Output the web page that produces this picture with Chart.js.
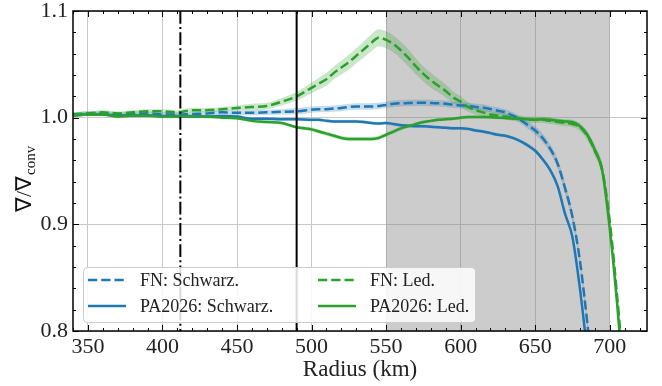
<!DOCTYPE html>
<html>
<head>
<meta charset="utf-8">
<script src="https://cdn.jsdelivr.net/npm/chart.js@4.4.1/dist/chart.umd.min.js"></script>
<style>
  html, body { margin: 0; padding: 0; background: #fff; font-family: serif; }
  #wrap { width: 662px; height: 386px; position: relative; }
</style>
</head>
<body>
<div id="wrap"><canvas id="chart" width="662" height="386"></canvas></div>
<script>
// radius grid (km)
const radius = [340, 350, 360, 370, 380, 390, 400, 410, 420, 430, 440, 450, 460, 470, 480, 490, 500,
  505, 510, 515, 520, 525, 530, 535, 540, 545, 550, 555, 560, 565, 570, 575, 580, 585, 590, 595, 600,
  605, 610, 615, 620, 625, 630, 635, 640, 645, 650, 655, 660, 665, 670, 675, 680, 685, 690, 695, 700, 705, 710];

// FN: Schwarz.
const fnSchwarz = [1.003, 1.004, 1.004, 1.003, 1.004, 1.004, 1.003, 1.003, 1.0035, 1.004, 1.005, 1.0045, 1.0045, 1.005, 1.0055, 1.006, 1.0075,
  1.008, 1.008, 1.0085, 1.009, 1.010, 1.0105, 1.0105, 1.0105, 1.011, 1.012, 1.013, 1.0135, 1.0137, 1.014, 1.014, 1.0138, 1.0135, 1.013, 1.012, 1.0115,
  1.011, 1.010, 1.0095, 1.008, 1.0065, 1.005, 1.002, 0.998, 0.993, 0.988, 0.981, 0.971, 0.957, 0.934, 0.907, 0.866, 0.807, 0.74, null, null, null, null];
const fnSchwarzErr = [0.002, 0.002, 0.002, 0.002, 0.002, 0.002, 0.002, 0.002, 0.002, 0.002, 0.002, 0.002, 0.0025, 0.0025, 0.0025, 0.003, 0.003,
  0.003, 0.003, 0.003, 0.003, 0.003, 0.003, 0.003, 0.003, 0.003, 0.003, 0.003, 0.003, 0.003, 0.003, 0.003, 0.003, 0.003, 0.003, 0.003, 0.003,
  0.003, 0.003, 0.003, 0.003, 0.003, 0.003, 0.003, 0.003, 0.0035, 0.004, 0.004, 0.004, 0.0045, 0.005, 0.005, 0.005, 0.005, 0.005, null, null, null, null];

// PA2026: Schwarz.
const paSchwarz = [1.002, 1.003, 1.003, 1.002, 1.002, 1.002, 1.0015, 1.0015, 1.001, 1.001, 1.0015, 1.001, 0.999, 0.999, 0.9985, 0.9985, 0.998,
  0.998, 0.997, 0.9965, 0.9965, 0.9965, 0.9965, 0.996, 0.995, 0.9945, 0.995, 0.994, 0.993, 0.9925, 0.992, 0.992, 0.9915, 0.991, 0.9906, 0.990, 0.990,
  0.9895, 0.988, 0.987, 0.9855, 0.984, 0.983, 0.981, 0.978, 0.974, 0.969, 0.961, 0.951, 0.936, 0.910, 0.888, 0.84, 0.78, null, null, null, null, null];
const paSchwarzErr = [0.0015, 0.0015, 0.0015, 0.0015, 0.0015, 0.0015, 0.0015, 0.0015, 0.0015, 0.0015, 0.0015, 0.0015, 0.0015, 0.0015, 0.0015, 0.0015, 0.0015,
  0.0015, 0.0015, 0.0015, 0.0015, 0.0015, 0.0015, 0.0015, 0.0015, 0.0015, 0.0015, 0.0015, 0.0015, 0.0015, 0.0015, 0.0015, 0.0015, 0.0015, 0.0015, 0.0015, 0.0015,
  0.0015, 0.0015, 0.0015, 0.0015, 0.0015, 0.0015, 0.0015, 0.0015, 0.002, 0.002, 0.002, 0.002, 0.002, 0.002, 0.002, 0.002, 0.002, null, null, null, null, null];

// FN: Led.
const fnLed = [1.003, 1.004, 1.005, 1.004, 1.005, 1.006, 1.006, 1.005, 1.007, 1.007, 1.008, 1.009, 1.010, 1.011, 1.015, 1.020, 1.028,
  1.032, 1.036, 1.042, 1.047, 1.052, 1.058, 1.064, 1.070, 1.075, 1.073, 1.069, 1.063, 1.056, 1.048, 1.041, 1.035, 1.030, 1.025, 1.019, 1.015,
  1.010, 1.007, 1.005, 1.003, 1.002, 1.001, 1.000, 0.999, 0.998, 0.998, 0.998, 0.997, 0.996, 0.995, 0.994, 0.991, 0.983, 0.969, 0.951, 0.903, 0.832, 0.75];
const fnLedErr = [0.002, 0.002, 0.002, 0.002, 0.002, 0.002, 0.002, 0.002, 0.002, 0.002, 0.002, 0.0025, 0.003, 0.003, 0.0035, 0.004, 0.005,
  0.0055, 0.006, 0.006, 0.0065, 0.007, 0.007, 0.0075, 0.008, 0.008, 0.008, 0.008, 0.008, 0.008, 0.0075, 0.007, 0.007, 0.0065, 0.006, 0.0055, 0.005,
  0.0045, 0.004, 0.0035, 0.003, 0.003, 0.003, 0.003, 0.003, 0.003, 0.003, 0.003, 0.003, 0.003, 0.003, 0.003, 0.0035, 0.004, 0.005, 0.006, 0.008, 0.01, 0.01];

// PA2026: Led.
const paLed = [1.002, 1.003, 1.003, 1.001, 1.002, 1.002, 1.001, 1.001, 1.0015, 1.001, 1.000, 0.9995, 0.997, 0.996, 0.995, 0.991, 0.989,
  0.987, 0.985, 0.983, 0.981, 0.980, 0.980, 0.980, 0.980, 0.981, 0.984, 0.987, 0.990, 0.992, 0.994, 0.996, 0.997, 0.998, 0.9985, 0.999, 1.000,
  1.0006, 1.0006, 1.0006, 1.0005, 1.000, 0.9998, 0.999, 0.999, 0.9985, 0.998, 0.9985, 0.998, 0.997, 0.9965, 0.996, 0.992, 0.984, 0.970, 0.950, 0.896, 0.825, 0.74];
const paLedErr = [0.0015, 0.0015, 0.0015, 0.0015, 0.0015, 0.0015, 0.0015, 0.0015, 0.0015, 0.0015, 0.0015, 0.0015, 0.0015, 0.0015, 0.0015, 0.0015, 0.002,
  0.002, 0.002, 0.002, 0.002, 0.002, 0.002, 0.002, 0.002, 0.002, 0.002, 0.002, 0.002, 0.0015, 0.0015, 0.0015, 0.0015, 0.0015, 0.0015, 0.0015, 0.0015,
  0.0015, 0.0015, 0.0015, 0.0015, 0.0015, 0.0015, 0.0015, 0.0015, 0.0015, 0.0015, 0.0015, 0.002, 0.002, 0.002, 0.002, 0.002, 0.003, 0.003, 0.004, 0.005, 0.006, 0.006];

const xTicks = [350, 400, 450, 500, 550, 600, 650, 700];
const yTicks = [0.8, 0.9, 1.0, 1.1];
const overshootRadius = 412;   // dash-dot line
const boundaryRadius = 490;    // solid line
const shadedRange = [550, 700];

const SERIF = 'serif';
const BLUE = '#1f77b4', GREEN = '#2ca02c';
const DASH = [9.25, 4];

Chart.defaults.font.family = SERIF;

const seriesDefs = [
  { label: 'FN: Schwarz.', values: fnSchwarz, err: fnSchwarzErr, color: BLUE, band: 'rgba(31,119,180,0.25)', dash: DASH },
  { label: 'PA2026: Schwarz.', values: paSchwarz, err: paSchwarzErr, color: BLUE, band: 'rgba(31,119,180,0.25)', dash: [] },
  { label: 'FN: Led.', values: fnLed, err: fnLedErr, color: GREEN, band: 'rgba(44,160,44,0.25)', dash: DASH },
  { label: 'PA2026: Led.', values: paLed, err: paLedErr, color: GREEN, band: 'rgba(44,160,44,0.25)', dash: [] },
];

function pts(vals, err, sign) {
  return radius.map((r, i) => ({ x: r, y: vals[i] == null ? null : vals[i] + sign * (err ? err[i] : 0) }));
}

const datasets = [];
seriesDefs.forEach((s, i) => {
  datasets.push({ data: pts(s.values, s.err, 1), fill: '+1', backgroundColor: s.band, borderWidth: 0,
    pointRadius: 0, cubicInterpolationMode: 'monotone', order: 20 + i });
  datasets.push({ data: pts(s.values, s.err, -1), fill: false, borderWidth: 0,
    pointRadius: 0, cubicInterpolationMode: 'monotone', order: 20 + i });
});
seriesDefs.forEach((s, i) => {
  datasets.push({ label: s.label, data: pts(s.values, null, 0), borderColor: s.color, borderWidth: 2.5,
    borderDash: s.dash, fill: false, pointRadius: 0, cubicInterpolationMode: 'monotone', order: 10 - i });
});

const shadePlugin = {
  id: 'shade',
  beforeDatasetsDraw(chart) {
    const { ctx, chartArea: a, scales: { x } } = chart;
    const x0 = x.getPixelForValue(shadedRange[0]), x1 = x.getPixelForValue(shadedRange[1]);
    ctx.save();
    ctx.fillStyle = 'rgba(128,128,128,0.4)';
    ctx.fillRect(x0, a.top, x1 - x0, a.bottom - a.top);
    ctx.restore();
  },
  afterDatasetsDraw(chart) {
    const { ctx, chartArea: a, scales: { x } } = chart;
    ctx.save();
    ctx.strokeStyle = '#000';
    ctx.lineWidth = 2;
    ctx.setLineDash([12.8, 3.2, 2, 3.2]);
    const xo = x.getPixelForValue(overshootRadius);
    ctx.beginPath(); ctx.moveTo(xo, a.top); ctx.lineTo(xo, a.bottom); ctx.stroke();
    ctx.setLineDash([]);
    const xb = x.getPixelForValue(boundaryRadius);
    ctx.beginPath(); ctx.moveTo(xb, a.top); ctx.lineTo(xb, a.bottom); ctx.stroke();
    ctx.restore();
  }
};

function seg(ctx, x0, y0, x1, y1) { ctx.beginPath(); ctx.moveTo(x0, y0); ctx.lineTo(x1, y1); ctx.stroke(); }

const framePlugin = {
  id: 'frame',
  afterDraw(chart) {
    const { ctx, chartArea: a, scales: { x, y } } = chart;
    ctx.save();
    ctx.strokeStyle = '#000';
    ctx.lineWidth = 1;
    // inward ticks on all sides
    for (let v = 340; v <= 725; v += 10) {
      const px = Math.round(x.getPixelForValue(v)) + 0.5;
      const len = xTicks.includes(v) ? 6 : 3;
      seg(ctx, px, a.bottom, px, a.bottom - len);
      seg(ctx, px, a.top, px, a.top + len);
    }
    for (let k = 0; k <= 15; k++) {
      const v = 0.8 + k * 0.02;
      const py = Math.round(y.getPixelForValue(v)) + 0.5;
      const len = k % 5 === 0 ? 6 : 3;
      seg(ctx, a.left, py, a.left + len, py);
      seg(ctx, a.right, py, a.right - len, py);
    }
    ctx.lineWidth = 1.5;
    ctx.strokeRect(a.left, a.top, a.right - a.left, a.bottom - a.top);

    // y axis title: nabla / nabla_conv
    ctx.translate(31, 212);
    ctx.rotate(-Math.PI / 2);
    ctx.fillStyle = '#111';
    ctx.textBaseline = 'alphabetic';
    ctx.font = '22px ' + SERIF;
    const main = '\u2207/\u2207';
    ctx.fillText(main, 0, 0);
    const w = ctx.measureText(main).width;
    ctx.font = '15px ' + SERIF;
    ctx.fillText('conv', w + 1, 4);
    ctx.setTransform(1, 0, 0, 1, 0, 0);

    // legend
    const lg = { x: a.left + 10, y: a.top + 256, w: 392, h: 55 };
    ctx.fillStyle = 'rgba(255,255,255,0.85)';
    ctx.strokeStyle = '#cccccc';
    ctx.lineWidth = 1;
    ctx.beginPath();
    ctx.roundRect(lg.x + 0.5, lg.y + 0.5, lg.w, lg.h, 4);
    ctx.fill(); ctx.stroke();
    const cols = [0, 230];
    const rows = [13, 39];
    seriesDefs.forEach((s, i) => {
      const cx = lg.x + cols[Math.floor(i / 2)];
      const cy = lg.y + rows[i % 2];
      ctx.strokeStyle = s.color;
      ctx.lineWidth = 2.5;
      ctx.setLineDash(s.dash);
      seg(ctx, cx + 5, cy, cx + 43, cy);
      ctx.setLineDash([]);
      ctx.fillStyle = '#222';
      ctx.font = '18px ' + SERIF;
      ctx.textBaseline = 'middle';
      ctx.fillText(s.label, cx + 57, cy + 1);
    });
    ctx.restore();
  }
};

new Chart(document.getElementById('chart').getContext('2d'), {
  type: 'line',
  data: { datasets },
  options: {
    responsive: false,
    animation: false,
    devicePixelRatio: 1,
    layout: { padding: { left: 0, right: 15, top: 11, bottom: 0 } },
    plugins: { legend: { display: false }, tooltip: { enabled: false } },
    scales: {
      x: {
        type: 'linear', min: 340, max: 725,
        afterBuildTicks: s => { s.ticks = xTicks.map(v => ({ value: v })); },
        afterFit: s => { s.height = 55; s.paddingLeft = 0; s.paddingRight = 0; },
        grid: { color: '#c8c8c8', lineWidth: 1, drawTicks: false },
        border: { display: false },
        ticks: { font: { family: SERIF, size: 22 }, color: '#222', padding: 3, maxRotation: 0, callback: v => v },
        title: { display: true, text: 'Radius (km)', font: { family: SERIF, size: 23 }, color: '#222', padding: { top: 0, bottom: 2 } }
      },
      y: {
        type: 'linear', min: 0.8, max: 1.1,
        afterBuildTicks: s => { s.ticks = yTicks.map(v => ({ value: v })); },
        afterFit: s => { s.width = 73; s.paddingTop = 0; s.paddingBottom = 0; },
        grid: { color: '#c8c8c8', lineWidth: 1, drawTicks: false },
        border: { display: false },
        ticks: { font: { family: SERIF, size: 22 }, color: '#222', padding: 5, callback: v => Number(v).toFixed(1) }
      }
    }
  },
  plugins: [shadePlugin, framePlugin]
});
</script>
</body>
</html>
